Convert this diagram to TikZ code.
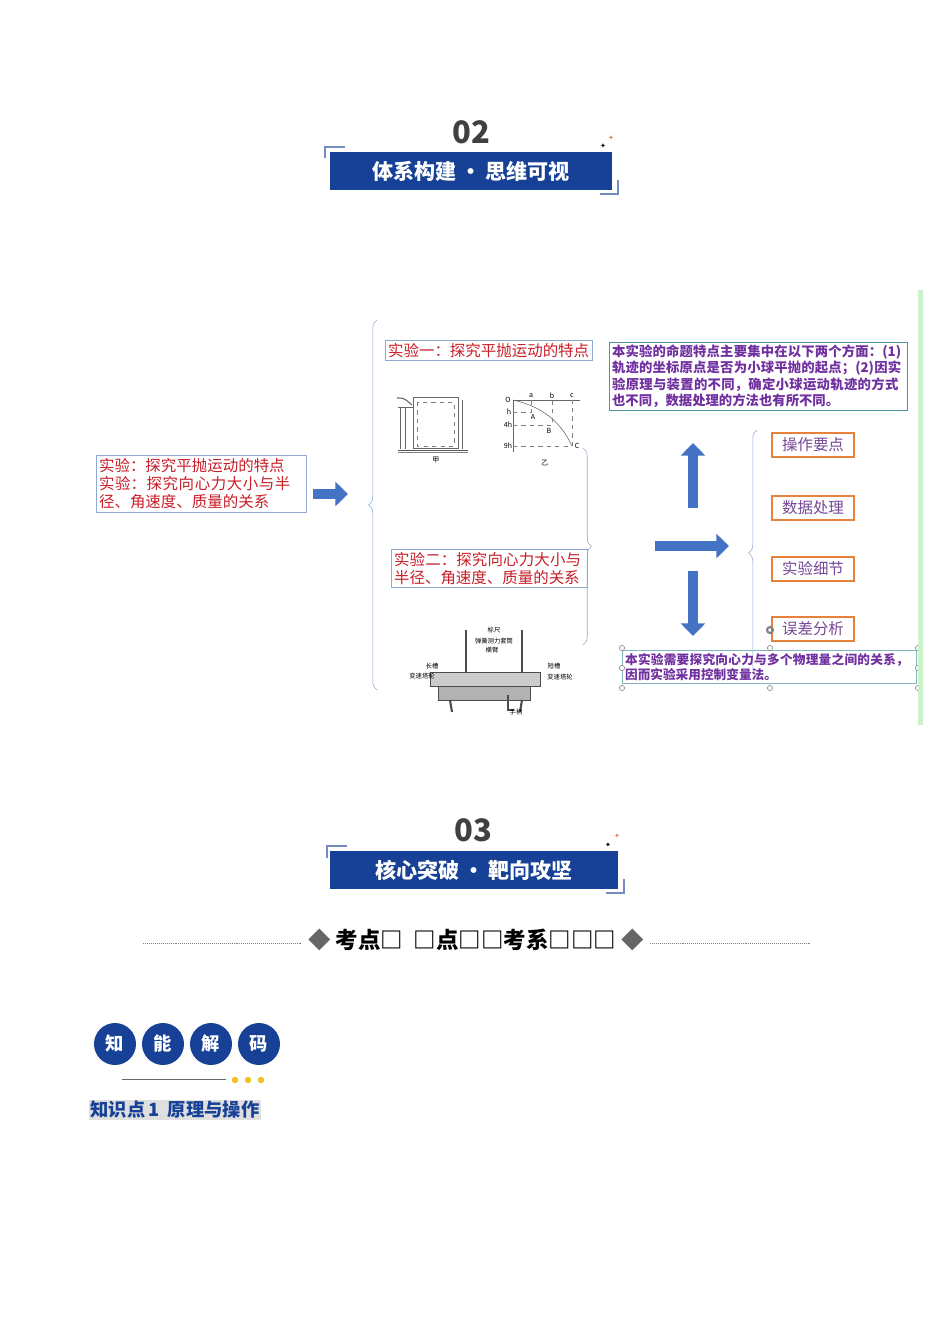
\documentclass[tikz,border=0pt]{standalone}
\usepackage{fontspec}
\setmainfont{Noto Sans CJK SC}
\newfontfamily\symfont{DejaVu Sans}
\XeTeXlinebreaklocale "zh"
\XeTeXlinebreakskip=0pt plus 1pt
\usetikzlibrary{arrows.meta}
\usetikzlibrary{decorations.pathreplacing}
\usetikzlibrary{positioning}
\definecolor{navy}{RGB}{22, 65, 150}
\definecolor{flow}{RGB}{68, 114, 196}
\definecolor{redtxt}{RGB}{200, 30, 40}
\definecolor{purp}{RGB}{112, 48, 160}
\definecolor{orng}{RGB}{230, 130, 60}
\definecolor{ltblue}{RGB}{140, 170, 210}
\definecolor{teal}{RGB}{80, 150, 160}
\tikzset{
  banner/.style={fill=navy, text=white, font=\bfseries\fontsize{15}{15}\selectfont,
    minimum width=7.05cm, minimum height=0.95cm, inner sep=0},
  redbox/.style={draw=ltblue, text=redtxt, font=\fontsize{11}{13}\selectfont,
    align=left, inner sep=2pt, anchor=north west},
  purpbox/.style={draw=teal, text=purp, font=\bfseries\fontsize{9.5}{11.5}\selectfont,
    align=left, inner sep=2pt, anchor=north west},
  tagbox/.style={draw=orng, line width=1.2pt, text=purp!70!gray,
    font=\fontsize{11}{11}\selectfont, minimum width=2.05cm, minimum height=0.6cm},
  fatarrow/.style={line width=7pt, draw=flow, -{Triangle[length=9pt,width=17pt]}},
  brace/.style={draw=ltblue, decorate, decoration={brace, amplitude=6pt}},
  drop/.style={circle, fill=navy, text=white, font=\bfseries\fontsize{13}{13}\selectfont,
    minimum size=1.05cm, inner sep=0},
  handle/.style={circle, draw=gray, fill=white, inner sep=1.3pt},
  spark/.style={font=\symfont\fontsize{5}{5}\selectfont}
}
\begin{document}
\begin{tikzpicture}[x=0.025cm, y=-0.025cm]
  \useasboundingbox (0,0) rectangle (950,1344);

  % section 02
  \node [font=\bfseries\fontsize{22}{22}\selectfont, text=black!75] (n02) at (471,132) {02};
  \node [banner] (ban02) at (471,171) {体系构建\,·\,思维可视};
  \draw [navy!60, thick] (325,158) -- (325,147) -- (345,147);
  \draw [navy!60, thick] (618,180) -- (618,194) -- (600,194);
  \node [spark, text=black] at (603,146) {✦};
  \node [spark, text=orng] at (611,138) {✦};

  % mind map
  \node [redbox, text width=5.1cm] (summary) at (96,455)
        {实验：探究平抛运动的特点\\实验：探究向心力大小与半径、角速度、质量的关系};
  \draw [fatarrow] (313,494) -- (348,494);
  \draw [brace] (377,690) -- (377,320);
  \node [redbox] (exp1) at (385,340) {实验一：探究平抛运动的特点};
  \node [redbox, text width=4.75cm] (exp2) at (391,549) {实验二：探究向心力大小与半径、角速度、质量的关系};

  % apparatus 1 (甲)
  \draw [gray!70!black] (398,450) -- (468,450);
  \draw [gray] (398,452) -- (468,452);
  \draw [gray!80!black] (413,397) rectangle (458,448);
  \draw [gray, dashed] (417,402) rectangle (454,446);
  \draw [gray!80!black] (400,407) -- (400,449) (405,407) -- (405,449) (398,407) -- (413,407);
  \draw [gray!80!black, thick] (397,398) .. controls (404,398) .. (412,405);
  \draw [gray!80!black] (462,400) -- (462,449);
  \node [font=\fontsize{5}{5}\selectfont] (jia) at (436,460) {甲};
  % apparatus 1 (乙)
  \draw [gray!80!black] (513,400) -- (580,400) (513,400) -- (513,452);
  \draw [gray!80!black] (513,400) .. controls (540,406) and (560,420) .. (572,446);
  \draw [gray, dashed] (513,412) -- (531,412) -- (531,400)
        (513,425) -- (552,425) -- (552,400)
        (513,446) -- (572,446) -- (572,400);
  \foreach \lab/\px/\py in {O/508/400, h/509/412, 4h/508/425, 9h/508/446, a/531/396, b/552/396, c/572/396,
                            A/533/417, B/549/431, C/577/446}
    \node [font=\fontsize{5}{5}\selectfont\itshape] at (\px,\py) {\lab};
  \node [font=\fontsize{5}{5}\selectfont] (yi) at (545,463) {乙};

  % apparatus 2
  \draw [gray!60!black, fill=gray!40] (430,672) rectangle (540,686);
  \draw [gray!60!black, fill=gray!60] (438,686) rectangle (530,700);
  \draw [gray!60!black, line width=2pt] (466,630) -- (466,672) (522,630) -- (522,672);
  \draw [gray!60!black, line width=1.5pt] (450,700) -- (452,712) (522,700) -- (520,712);
  \draw [gray!60!black, thick] (508,695) -- (508,710) -- (514,710);
  \node [font=\fontsize{4.5}{4.5}\selectfont] (ruler) at (494,630) {标尺};
  \node [font=\fontsize{4.5}{4.5}\selectfont] (spring) at (494,641) {弹簧测力套筒};
  \node [font=\fontsize{4.5}{4.5}\selectfont] (arm) at (492,650) {横臂};
  \node [font=\fontsize{4.5}{4.5}\selectfont] (long) at (432,666) {长槽};
  \node [font=\fontsize{4.5}{4.5}\selectfont] (wheel1) at (422,676) {变速塔轮};
  \node [font=\fontsize{4.5}{4.5}\selectfont] (short) at (554,666) {短槽};
  \node [font=\fontsize{4.5}{4.5}\selectfont] (wheel2) at (560,677) {变速塔轮};
  \node [font=\fontsize{4.5}{4.5}\selectfont] (crank) at (516,712) {手柄};

  % second brace and arrows
  \draw [brace] (583,448) -- (583,645);
  \draw [fatarrow] (655,546) -- (729,546);
  \draw [fatarrow] (693,508) -- (693,443);
  \draw [fatarrow] (693,571) -- (693,636);
  \draw [brace] (757,676) -- (757,430);

  \node [purpbox, text width=7.3cm] (feature) at (609,342)
        {本实验的命题特点主要集中在以下两个方面：(1)轨迹的坐标原点是否为小球平抛的起点；(2)因实验原理与装置的不同，确定小球运动轨迹的方式也不同，数据处理的方法也有所不同。};
  \node [tagbox] (op) at (813,445) {操作要点};
  \node [tagbox] (data) at (813,508) {数据处理};
  \node [tagbox] (detail) at (813,569) {实验细节};
  \node [tagbox] (error) at (813,629) {误差分析};
  \node [purpbox, draw=teal!70, text width=7.2cm, font=\bfseries\fontsize{9}{11}\selectfont] (control) at (622,650)
        {本实验需要探究向心力与多个物理量之间的关系，因而实验采用控制变量法。};
  \foreach \hx/\hy in {622/648, 770/648, 918/648, 622/668, 918/668, 622/688, 770/688, 918/688}
    \node [handle] at (\hx,\hy) {};
  \node [circle, draw=gray, line width=1.5pt, inner sep=1.5pt] (rot) at (770,630) {};
  \fill [green!60!gray!25] (918,290) rectangle (923,725);

  % section 03
  \node [font=\bfseries\fontsize{22}{22}\selectfont, text=black!75] (n03) at (473,830) {03};
  \node [banner, minimum width=7.2cm] (ban03) at (474,870) {核心突破\,·\,靶向攻坚};
  \draw [navy!60, thick] (327,858) -- (327,846) -- (347,846);
  \draw [navy!60, thick] (624,879) -- (624,893) -- (606,893);
  \node [spark, text=black] at (608,845) {✦};
  \node [spark, text=orng] at (617,836) {✦};

  \node [font=\bfseries\fontsize{16}{16}\selectfont] (topic) at (476,940)
        {\textcolor{gray!80!black}{◆} 考点□\ \ □点□□考系□□□ \textcolor{gray!80!black}{◆}};
  \draw [gray, densely dotted] (143,943) -- (302,943) (650,943) -- (810,943);

  % 知能解码
  \foreach \ch [count=\i] in {知,能,解,码}
    \node [drop] (d\i) at (67+48*\i,1044) {\ch};
  \draw [gray!80!black] (122,1079) -- (226,1079);
  \foreach \dx in {235,248,261}
    \fill [orng!50!yellow] (\dx,1080) circle (3.2);
  \node [fill=gray!25, text=navy, font=\bfseries\fontsize{13}{13}\selectfont, inner sep=1pt] (kp)
        at (175,1110) {知识点\,1\ \ 原理与操作};
\end{tikzpicture}
\end{document}
